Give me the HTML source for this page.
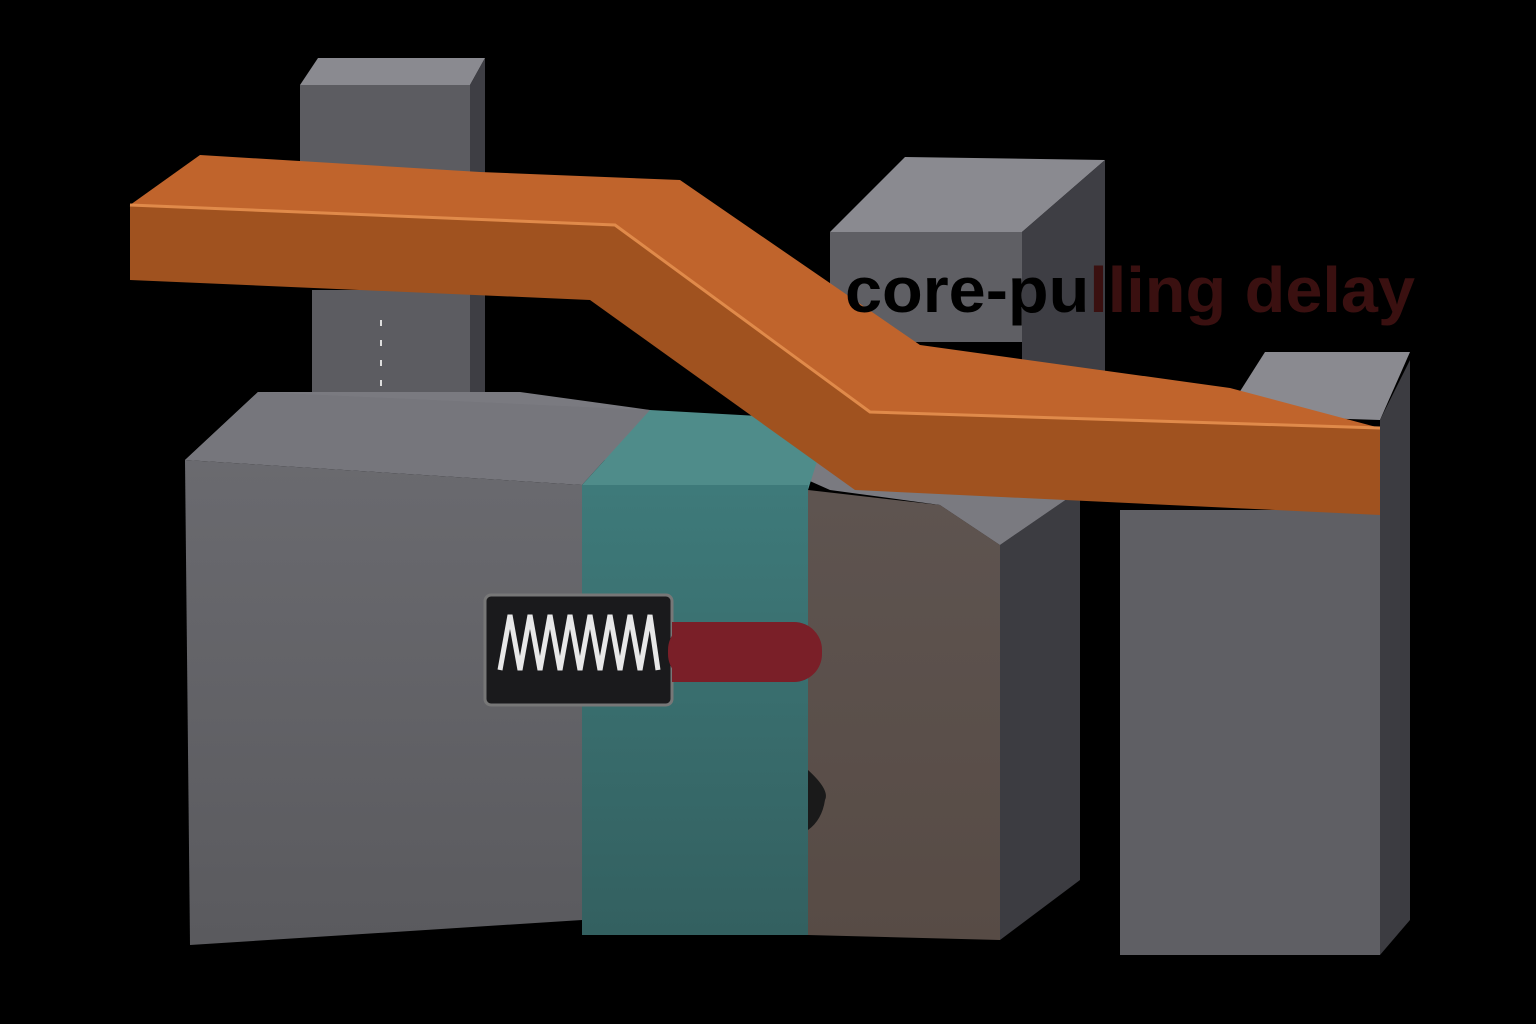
<!DOCTYPE html>
<html><head><meta charset="utf-8"><style>
html,body{margin:0;padding:0;background:#000;}
svg{display:block}
</style></head><body>
<svg width="1536" height="1024" viewBox="0 0 1536 1024" xmlns="http://www.w3.org/2000/svg">
<defs>
<linearGradient id="gface" x1="0" y1="0" x2="0" y2="1"><stop offset="0" stop-color="#6a6a6f"/><stop offset="1" stop-color="#5a5a5e"/></linearGradient>
<linearGradient id="teal" x1="0" y1="0" x2="0" y2="1"><stop offset="0" stop-color="#3e7a7a"/><stop offset="1" stop-color="#336060"/></linearGradient>
<linearGradient id="brown" x1="0" y1="0" x2="0" y2="1"><stop offset="0" stop-color="#5e5450"/><stop offset="1" stop-color="#574b45"/></linearGradient>
</defs>
<rect width="1536" height="1024" fill="#000"/>

<polygon points="830,232 905,157 1105,160 1022,232" fill="#8a8a90"/>
<rect x="830" y="232" width="192" height="110" fill="#5f5f64"/>
<polygon points="1022,232 1105,160 1105,390 1022,400" fill="#3e3e44"/>

<polygon points="300,85 318,58 485,58 470,85" fill="#8a8a90"/>
<rect x="300" y="85" width="170" height="110" fill="#5c5c61"/>
<polygon points="470,85 485,58 485,430 470,448" fill="#3e3e44"/>
<rect x="312" y="290" width="158" height="158" fill="#5c5c61"/>
<line x1="381" y1="320" x2="381" y2="440" stroke="#ddd" stroke-width="2" stroke-dasharray="6,14"/>

<polygon points="185,460 258,392 520,392 650,410 830,490 940,505 1000,545 1000,460 185,460" fill="#7a7a80"/>
<polygon points="258,392 650,410 582,485 185,460" fill="#76767c"/>
<polygon points="582,485 650,410 830,420 808,490" fill="#4f8c8a"/>
<polygon points="1000,545 1080,490 1080,880 1000,940" fill="#3c3c41"/>
<polygon points="940,505 1000,545 1080,490 1040,490" fill="#7a7a80"/>
<polygon points="185,460 582,485 582,920 190,945" fill="url(#gface)"/>
<rect x="582" y="485" width="226" height="450" fill="url(#teal)"/>
<polygon points="808,490 940,505 1000,545 1000,940 808,935" fill="url(#brown)"/>
<path d="M808,770 Q830,790 825,800 Q822,820 808,830 Z" fill="#1a1a1a"/>

<rect x="485" y="595" width="187" height="110" rx="6" fill="#1a1a1c" stroke="#777" stroke-width="3"/>
<polyline points="500,670 510,615 520,670 530,615 540,670 550,615 560,670 570,615 580,670 590,615 600,670 610,615 620,670 630,615 640,670 650,615 658,670" fill="none" stroke="#e8e8e8" stroke-width="5"/>
<rect x="668" y="622" width="154" height="60" rx="28" fill="#7a1f28"/>
<rect x="672" y="622" width="30" height="60" fill="#7a1f28"/>

<polygon points="1225,415 1265,352 1410,352 1380,420" fill="#8a8a90"/>
<rect x="1120" y="510" width="260" height="445" fill="#5f5f64"/>
<polygon points="1380,420 1410,360 1410,920 1380,955" fill="#3c3c41"/>

<polygon points="130,205 200,155 480,172 680,180 920,345 1230,388 1380,428 870,412 615,225" fill="#c0642c"/>
<polygon points="130,205 615,225 870,412 1380,428 1380,515 855,490 590,300 130,280" fill="#a0521f"/>
<polyline points="130,205 615,225 870,412 1380,428" fill="none" stroke="#e08a4a" stroke-width="3"/>

<text x="845" y="312" font-family="Liberation Sans, sans-serif" font-weight="bold" font-size="64" textLength="570" lengthAdjust="spacingAndGlyphs" fill="#000">core-pu<tspan fill="#3a1010">lling delay</tspan></text>
</svg>
</body></html>
